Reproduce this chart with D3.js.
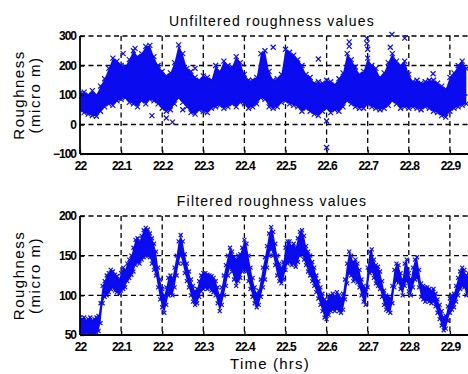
<!DOCTYPE html>
<html><head><meta charset="utf-8">
<script src="https://cdn.jsdelivr.net/npm/d3@7"></script>
<style>
body{margin:0;background:#fff}
svg{display:block}
text{font-family:"Liberation Sans",Arial,sans-serif;fill:#000}
</style>
</head><body>
<svg id="chart" width="468" height="374"></svg>
<script>
// Time axis (hours)
const timeTicks = [22, 22.1, 22.2, 22.3, 22.4, 22.5, 22.6, 22.7, 22.8, 22.9];
const timeTickLabels = ["22", "22.1", "22.2", "22.3", "22.4", "22.5", "22.6", "22.7", "22.8", "22.9"];

// Unfiltered roughness: spread of readings per 0.01 h bin starting at 22.00
const rawStart = 22.0, rawStep = 0.01;
const rawLo = [50,40,35,30,28,45,60,70,65,80, 85,90,75,70,60,80,70,85,80,70,
               55,45,50,70,90,75,60,40,35,50, 45,40,55,60,65,55,60,70,60,75,
               70,55,60,70,90,85,60,55,60,75, 80,70,65,60,45,55,45,35,30,45,
               55,40,50,45,60,80,70,60,55,55, 70,60,55,50,55,65,80,70,55,60,
               55,60,55,50,60,55,45,40,30,25, 45,55,60,65,70];
const rawHi = [105,110,100,115,100,130,155,190,225,215, 200,195,220,250,230,240,265,268,230,200,
               180,165,175,210,270,240,190,180,160,150, 165,160,150,200,180,215,200,195,230,210,
               170,150,150,160,240,250,180,150,155,170, 255,245,235,220,200,170,160,140,145,140,
               150,145,135,155,175,240,220,195,170,180, 225,200,190,160,175,210,240,215,200,215,
               170,145,150,140,145,150,150,140,130,120, 160,175,200,215,190];
// Isolated unfiltered readings outside the main cloud
const rawOutT = [22.105,22.134,22.175,22.21,22.225,22.25,22.28,22.47,22.58,22.6,22.6,
                 22.655,22.655,22.698,22.698,22.7,22.755,22.759,22.79,22.859];
const rawOutV = [240,258,30,22,8,50,190,262,222,12,-78,
                 280,265,292,275,255,262,305,293,172];

// Filtered roughness: band of values per 0.005 h step starting at 22.000
const filtStart = 22.0, filtStep = 0.005;
const filtLo = [52,52,50,53,52,51,50,52,53,55, 65,90,98,100,104,108,110,106,104,102,
                106,108,110,118,122,126,130,138,142,140, 145,148,150,150,148,140,132,125,110,95,
                85,78,88,100,102,100,110,125,140,150, 140,128,118,110,100,92,88,90,98,105,
                108,110,108,110,106,104,100,90,80,88, 100,112,125,135,130,120,112,118,122,130,
                135,130,118,108,98,90,85,88,98,110, 120,135,150,158,150,138,125,118,115,120,
                132,140,142,138,140,136,142,150,152,145, 138,130,125,118,112,104,96,88,80,72,
                70,75,80,82,80,84,80,78,82,95, 115,128,125,118,120,116,110,100,92,88,
                110,128,130,122,115,112,108,98,88,82, 80,78,90,110,118,116,108,100,112,118,
                105,100,110,120,122,110,98,95,92,94, 92,90,92,86,78,70,62,56,58,68,
                78,82,85,92,100,108,112,110,100,104];
const filtHi = [72,70,72,68,70,72,68,70,72,74, 90,112,118,125,128,132,130,126,124,120,
                128,135,132,140,145,150,160,170,172,168, 175,182,185,183,178,172,165,155,135,120,
                108,100,110,122,125,122,135,150,168,176, 168,152,140,130,120,112,105,108,118,125,
                128,128,126,125,124,122,118,110,100,110, 125,138,150,160,155,148,145,150,152,160,
                170,165,150,135,122,110,102,106,120,135, 148,162,178,186,180,165,150,140,135,142,
                160,168,168,162,165,160,172,180,182,175, 162,155,150,142,135,125,118,110,102,95,
                92,98,100,102,98,104,100,96,102,120, 140,155,150,142,145,140,132,120,112,108,
                135,155,158,145,138,136,130,118,106,100, 98,96,112,132,140,138,128,120,140,145,
                128,120,135,145,148,132,115,112,110,110, 108,106,108,102,95,88,80,72,74,86,
                96,100,102,112,122,130,135,132,125,128];

const svg = d3.select("#chart");
const blue = "#0b0bef";
const left = 80;
const x = d3.scaleLinear().domain([22, 23]).range([left, left + 411]);

function drawPanel(opts) {
  const y = d3.scaleLinear().domain(opts.domain).range([opts.bottom, opts.top]);
  const g = svg.append("g");
  const clipId = "clip" + opts.id;
  svg.append("clipPath").attr("id", clipId)
    .append("rect").attr("x", left).attr("y", opts.top - 6)
    .attr("width", 468 - left).attr("height", opts.bottom - opts.top + 6);

  // dashed grid
  g.selectAll(".gx").data(timeTicks.slice(1)).join("line")
    .attr("x1", d => x(d)).attr("x2", d => x(d))
    .attr("y1", opts.top).attr("y2", opts.bottom)
    .attr("stroke", "#000").attr("stroke-width", 1.3).attr("stroke-dasharray", "5,3.5");
  g.selectAll(".gy").data(opts.ticks.slice(1)).join("line")
    .attr("x1", left).attr("x2", 468)
    .attr("y1", d => y(d)).attr("y2", d => y(d))
    .attr("stroke", "#000").attr("stroke-width", 1.3).attr("stroke-dasharray", "5,3.5");

  // data
  const dg = svg.append("g").attr("clip-path", `url(#${clipId})`);
  opts.draw(dg, y);

  // axes lines and ticks
  const xAxis = d3.axisBottom(x).tickValues(timeTicks)
    .tickFormat((d, i) => timeTickLabels[i]).tickSize(-4).tickPadding(7);
  const ax = svg.append("g").attr("transform", `translate(0,${opts.bottom})`).call(xAxis);
  ax.select(".domain").attr("d", `M${left},0H468`).attr("stroke-width", 1.8);
  ax.selectAll(".tick line").attr("stroke-width", 1.3);
  ax.selectAll("text").attr("font-size", 12).attr("letter-spacing", -1)
    .attr("font-family", "'Liberation Sans',Arial,sans-serif").attr("fill", "#000");

  const yAxis = d3.axisLeft(y).tickValues(opts.ticks).tickSize(-4).tickPadding(4);
  const ay = svg.append("g").attr("transform", `translate(${left},0)`).call(yAxis);
  ay.select(".domain").attr("d", `M0,${opts.top}V${opts.bottom}`).attr("stroke-width", 1.8);
  ay.selectAll(".tick line").attr("stroke-width", 1.3);
  ay.selectAll("text").attr("font-size", 12).attr("letter-spacing", -1).attr("font-weight", "bold")
    .attr("font-family", "'Liberation Sans',Arial,sans-serif").attr("fill", "#000");
  ax.selectAll("text").attr("font-weight", "bold");

  // title
  svg.append("text").attr("x", 272).attr("y", opts.top - 10)
    .attr("text-anchor", "middle").attr("font-size", 14).attr("letter-spacing", 1.2)
    .text(opts.title);

  // y label
  const cy = (opts.top + opts.bottom) / 2;
  const yl = svg.append("text").attr("transform", `translate(24,${cy}) rotate(-90)`)
    .attr("text-anchor", "middle").attr("font-size", 15).attr("letter-spacing", 1.5);
  yl.append("tspan").attr("x", 0).attr("dy", 0).text("Roughness");
  yl.append("tspan").attr("x", 0).attr("dy", 16).text("(micro m)");
}

function crosses(g, pts, size, y) {
  g.selectAll(null).data(pts).join("path")
    .attr("d", d => {
      const cx = x(d[0]), cy = y(d[1]), s = size / 2;
      return `M${cx - s},${cy - s}L${cx + s},${cy + s}M${cx - s},${cy + s}L${cx + s},${cy - s}`;
    })
    .attr("stroke", blue).attr("stroke-width", 1.2).attr("fill", "none");
}

// Unfiltered panel
drawPanel({
  id: "raw", top: 36, bottom: 154, domain: [-100, 300],
  ticks: [-100, 0, 100, 200, 300], title: "Unfiltered roughness values",
  draw: (g, y) => {
    const band = rawLo.map((lo, i) => ({ t: rawStart + i * rawStep, lo, hi: rawHi[i] }));
    g.append("path").datum(band)
      .attr("d", d3.area().x(d => x(d.t)).y0(d => y(d.lo)).y1(d => y(d.hi)))
      .attr("fill", blue);
    crosses(g, band.map(d => [d.t, d.lo]), 5, y);
    crosses(g, band.map(d => [d.t, d.hi]), 5, y);
    crosses(g, rawOutT.map((t, i) => [t, rawOutV[i]]), 5, y);
  }
});

// Filtered panel
drawPanel({
  id: "filt", top: 216, bottom: 335, domain: [50, 200],
  ticks: [50, 100, 150, 200], title: "Filtered roughness values",
  draw: (g, y) => {
    const band = filtLo.map((lo, i) => ({ t: filtStart + i * filtStep, lo, hi: filtHi[i] }));
    g.append("path").datum(band)
      .attr("d", d3.area().x(d => x(d.t)).y0(d => y(d.lo)).y1(d => y(d.hi)))
      .attr("fill", blue);
    crosses(g, band.map(d => [d.t, d.lo]), 4, y);
    crosses(g, band.map(d => [d.t, d.hi]), 4, y);
  }
});

// x label
svg.append("text").attr("x", 270).attr("y", 369).attr("text-anchor", "middle")
  .attr("font-size", 15).attr("letter-spacing", 1.2).text("Time (hrs)");
</script>
</body></html>
